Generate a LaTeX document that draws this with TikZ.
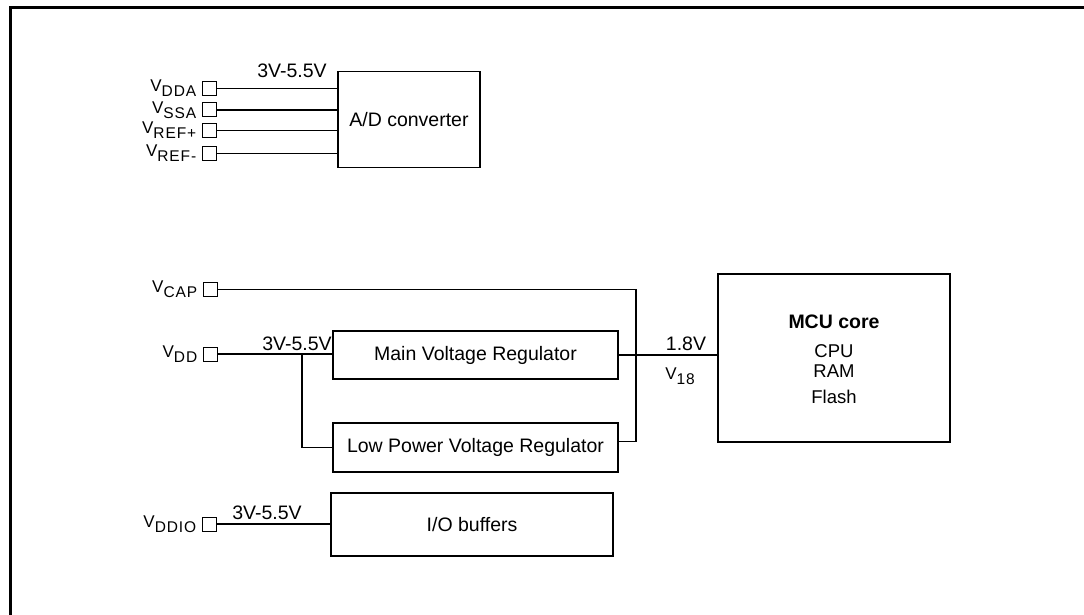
\documentclass[tikz,border=0pt]{standalone}
\usepackage{fontspec}
\setmainfont{Liberation Sans}
\newfontfamily\lsfont[LetterSpace=6]{Liberation Sans}
\newcommand\vsub[1]{V\raisebox{-5pt}{\fontsize{15.5}{15.5}\selectfont #1}}
\begin{document}
\begin{tikzpicture}[x=1pt,y=-1pt,
  every node/.style={font=\fontsize{19.5}{23}\selectfont},
  pinsq/.style={draw, line width=1pt, minimum size=14pt, inner sep=0pt},
  plab/.style={anchor=east, inner sep=0pt, font=\lsfont\fontsize{17}{18}\selectfont},
  blk/.style={draw, line width=1.3pt, inner sep=0pt},
  txt/.style={inner sep=0pt},
  mcutxt/.style={inner sep=0pt, font=\fontsize{18.5}{22}\selectfont},
  wire/.style={line width=1.2pt},
  frame/.style={line width=3pt}]
\useasboundingbox (0,0) rectangle (1084,615);
\draw[frame] (10,615) -- (10,8) -- (1084,8);

% A/D converter section
\node[blk, minimum width=142pt, minimum height=96pt] (adc) at (409,119.5) {A/D converter};
\node[pinsq] (pdda) at (209,88.5) {};
\node[pinsq] (pssa) at (209,110) {};
\node[pinsq] (prefp) at (209,130.5) {};
\node[pinsq] (prefm) at (209,153.5) {};
\node[plab] (ldda) at ([xshift=-5pt]pdda.west) {\vsub{DDA}};
\node[plab] (lssa) at ([xshift=-5pt]pssa.west) {\vsub{SSA}};
\node[plab] (lrefp) at ([xshift=-5pt]prefp.west) {\vsub{REF+}};
\node[plab] (lrefm) at ([xshift=-5pt]prefm.west) {\vsub{REF-}};
\draw[wire] (pdda.east) -- (pdda.east -| adc.west);
\draw[wire] (pssa.east) -- (pssa.east -| adc.west);
\draw[wire] (prefp.east) -- (prefp.east -| adc.west);
\draw[wire] (prefm.east) -- (prefm.east -| adc.west);
\node[txt] (vadc) at (292,70.5) {3V-5.5V};

% Regulators and MCU core
\node[blk, minimum width=285pt, minimum height=48pt] (mvr) at (475.5,355) {Main Voltage Regulator};
\node[blk, minimum width=285pt, minimum height=49pt] (lpr) at (475.5,447.5) {Low Power Voltage Regulator};
\node[blk, minimum width=232pt, minimum height=168pt] (mcu) at (834,358) {};
\node[txt, font=\fontsize{19.5}{23}\selectfont\bfseries] (mcut) at (834,322) {MCU core};
\node[mcutxt] (cpu) at (834,351) {CPU};
\node[mcutxt] (ram) at (834,371) {RAM};
\node[mcutxt] (flash) at (834,397) {Flash};

\node[pinsq] (pcap) at (210,289.5) {};
\node[pinsq] (pdd) at (210,354) {};
\node[plab] (lcap) at ([xshift=-5pt]pcap.west) {\vsub{CAP}};
\node[plab] (ldd) at ([xshift=-5pt]pdd.west) {\vsub{DD}};

\coordinate (cx) at (636,0);
\coordinate (bj) at (302,354);
\draw[wire] (pcap.east) -- (pcap.east -| cx) |- ([yshift=6pt]lpr.east);
\draw[wire] (pdd.east) -- (pdd.east -| mvr.west);
\draw[wire] (bj) |- (lpr.west);
\draw[wire] (mvr.east) -- (mvr.east -| mcu.west);
\node[txt] (vdd) at (297,344) {3V-5.5V};
\node[txt] (v18v) at (686,344) {1.8V};
\node[plab, anchor=center] (v18) at (680,376) {\vsub{18}};

% I/O buffers
\node[blk, minimum width=282pt, minimum height=63pt] (io) at (472,524.5) {I/O buffers};
\node[pinsq] (pddio) at (209,524) {};
\node[plab] (lddio) at ([xshift=-5pt]pddio.west) {\vsub{DDIO}};
\draw[wire] (pddio.east) -- (pddio.east -| io.west);
\node[txt] (vio) at (267,513) {3V-5.5V};
\end{tikzpicture}
\end{document}
